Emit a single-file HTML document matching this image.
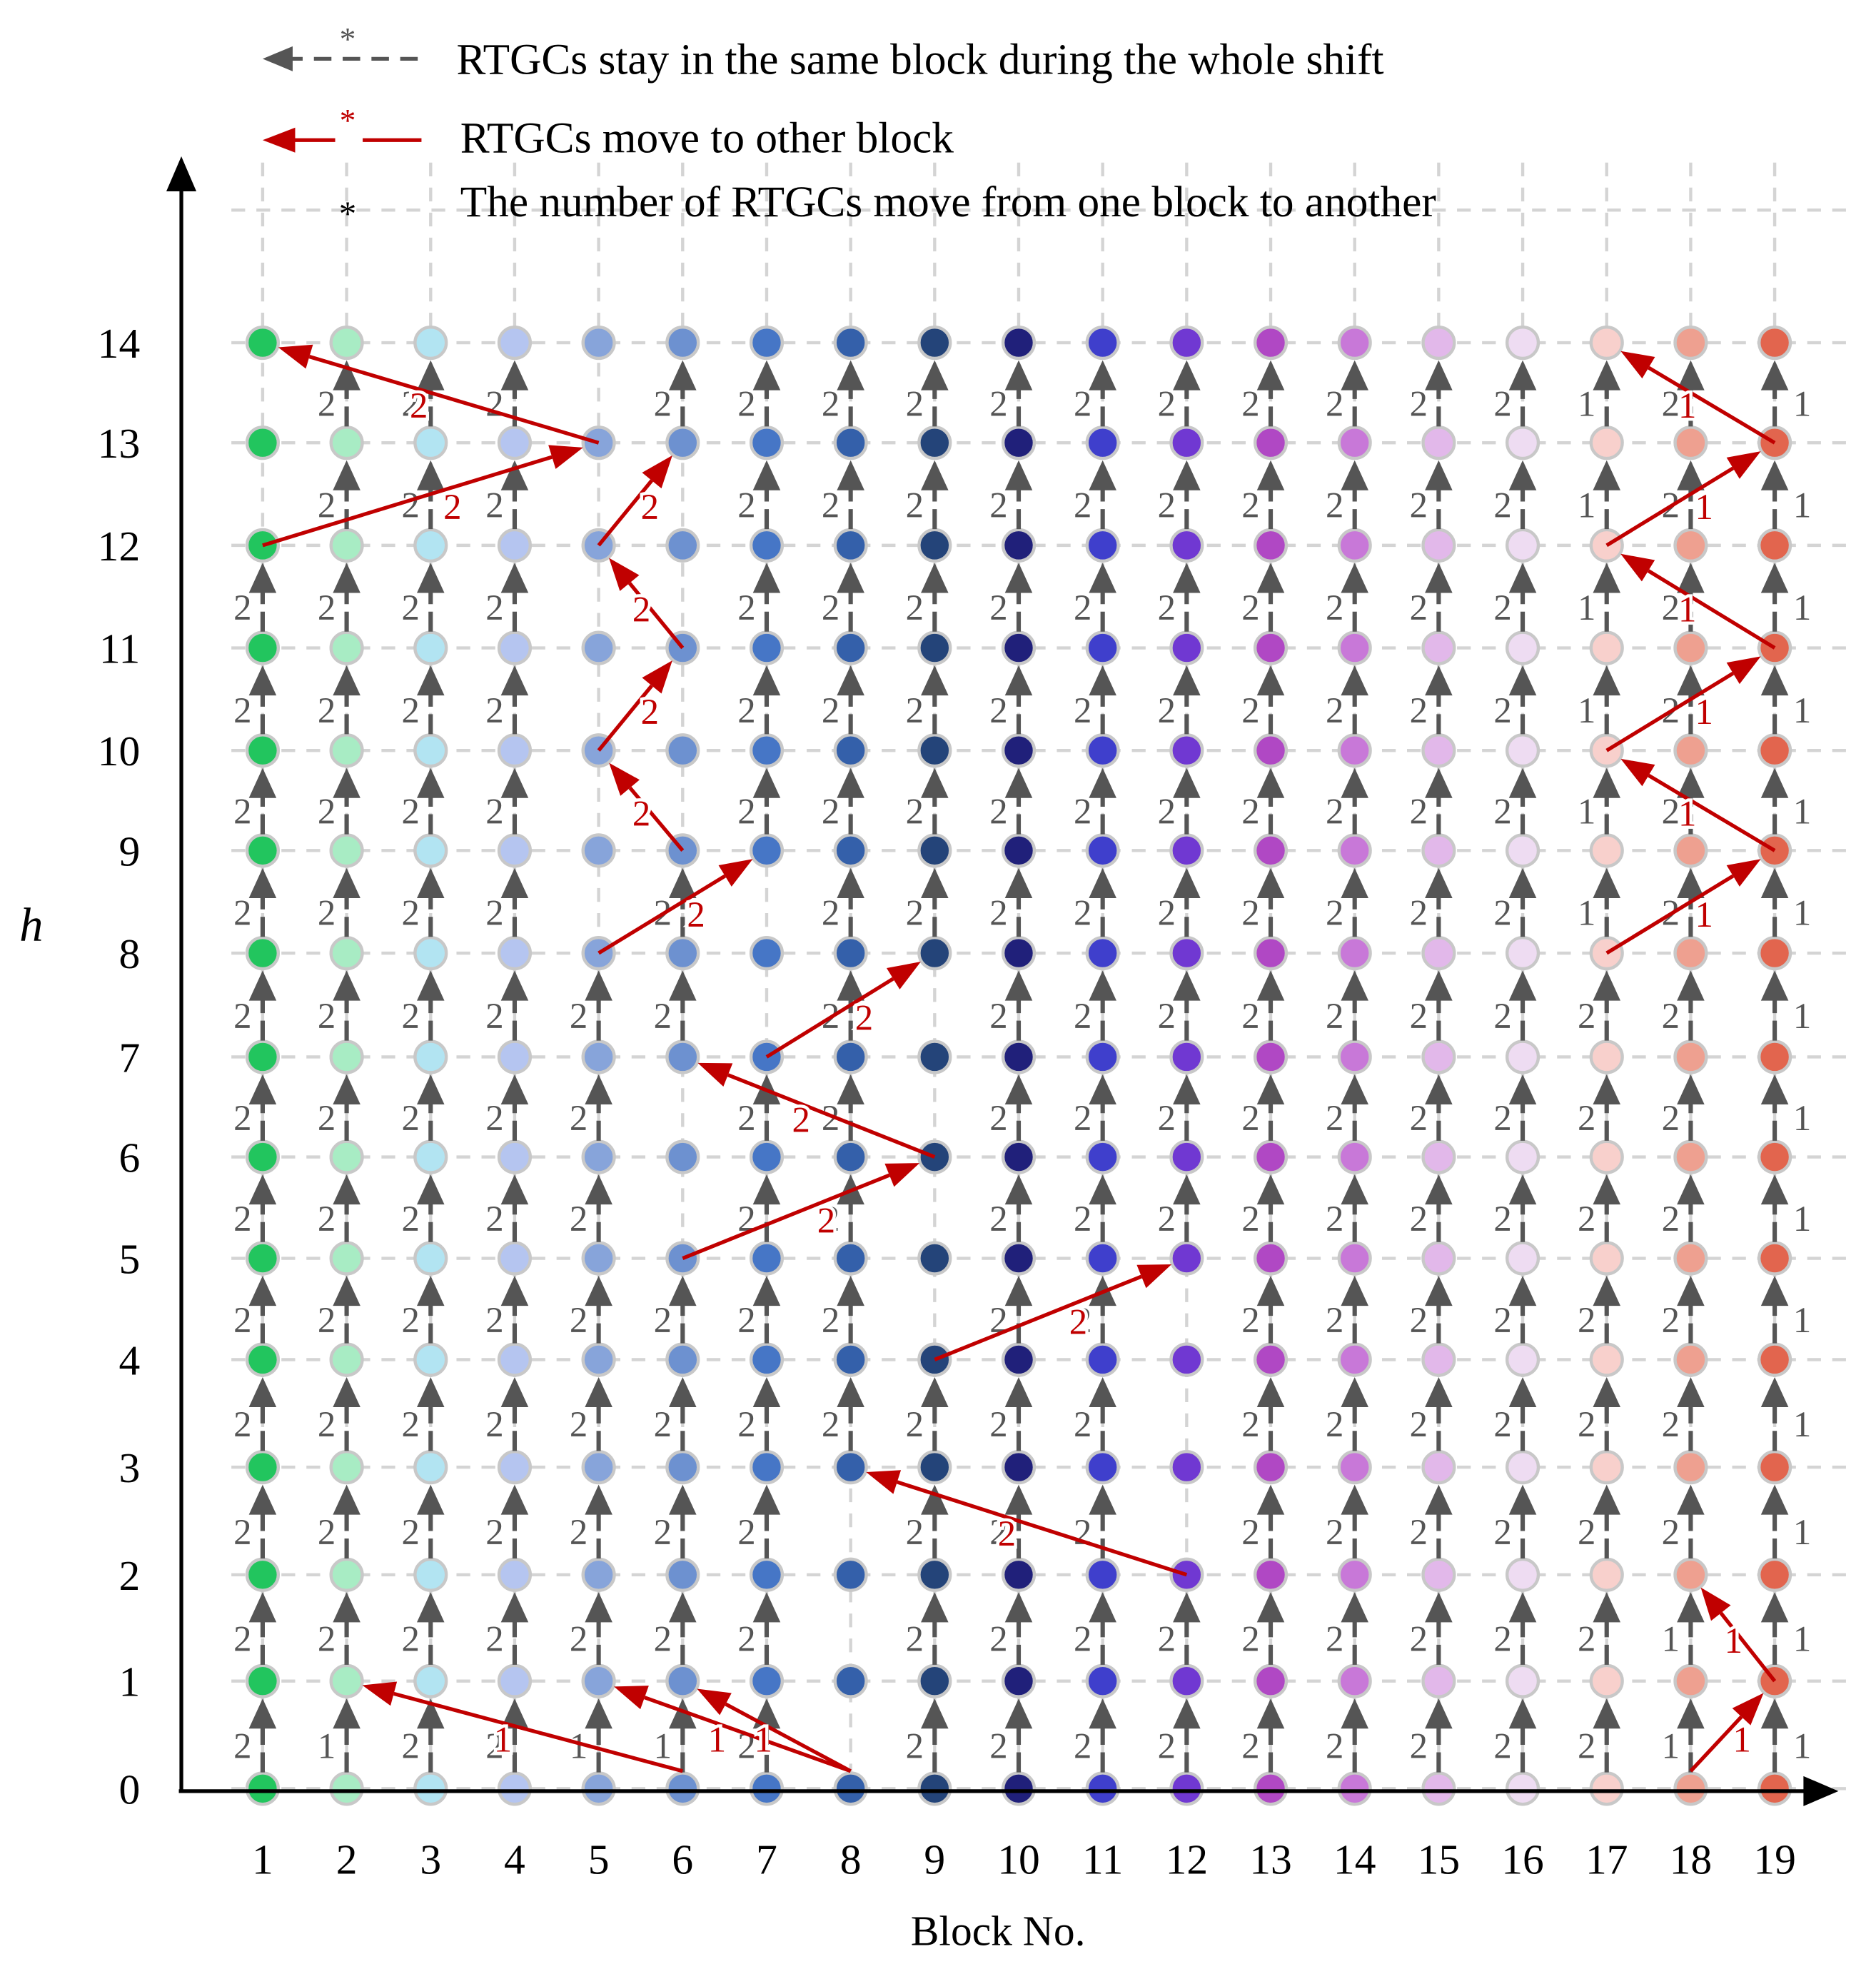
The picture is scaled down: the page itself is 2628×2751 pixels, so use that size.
<!DOCTYPE html>
<html><head><meta charset="utf-8"><style>
html,body{margin:0;padding:0;background:#fff}
svg{display:block}
text{font-family:"Liberation Serif",serif}
</style></head><body>
<svg id="chart" width="2628" height="2751" viewBox="0 0 1500 1570.2" xmlns="http://www.w3.org/2000/svg">
<g id="grid"></g>
<g id="dots"></g>
<g id="garrows"></g>
<g id="rarrows"></g>
<g>
<line x1="145" y1="1432" x2="145" y2="145" stroke="#000" stroke-width="3"/>
<path d="M145,125 L133,153 L157,153 Z" fill="#000"/>
<line x1="143" y1="1432" x2="1448" y2="1432" stroke="#000" stroke-width="3"/>
<path d="M1470,1432 L1442,1420 L1442,1444 Z" fill="#000"/>
</g>
<g id="ticks" font-size="34" fill="#000"></g>
<text x="25" y="752" font-size="38" font-style="italic" text-anchor="middle">h</text>
<text x="798" y="1555" font-size="34" text-anchor="middle">Block No.</text>
<g font-size="35">
<g>
<line x1="228" y1="47" x2="335" y2="47" stroke="#555" stroke-width="3" stroke-dasharray="14 9"/>
<path d="M210,47 L234,37 L234,57 Z" fill="#555"/>
<text x="278" y="40" font-size="26" fill="#555" text-anchor="middle">*</text>
<text x="365" y="59">RTGCs stay in the same block during the whole shift</text>
</g>
<g>
<line x1="228" y1="112" x2="268" y2="112" stroke="#c00000" stroke-width="3"/>
<line x1="290" y1="112" x2="337" y2="112" stroke="#c00000" stroke-width="3"/>
<path d="M210,112 L236,102 L236,122 Z" fill="#c00000"/>
<text x="278" y="105" font-size="26" fill="#c00000" text-anchor="middle">*</text>
<text x="368" y="122">RTGCs move to other block</text>
</g>
<g>
<text x="278" y="180" font-size="28" fill="#000" text-anchor="middle">*</text>
<text x="368" y="173">The number of RTGCs move from one block to another</text>
</g>
</g>
</svg>
<script>
const blocks=[1,2,3,4,5,6,7,8,9,10,11,12,13,14,15,16,17,18,19];
const hours=[0,1,2,3,4,5,6,7,8,9,10,11,12,13,14];
const blockColors=["#22c55e","#a8ecc4","#b2e4f2","#b5c5f0","#87a4da","#6d91d0","#4676c6","#3460aa","#244479","#20207a","#3f3fcc","#7038d2","#b048c4","#c878d8","#e2b8ea","#eedcf2","#f8d0cc","#eea090","#e2654e"];
// missing stay arrows: [block, fromHour]
const missingStay=[[1,12],[1,13],[5,8],[5,9],[5,10],[5,11],[5,12],[5,13],[6,5],[6,6],[6,9],[6,10],[6,11],[6,12],[7,7],[7,8],[8,0],[8,1],[8,2],[9,4],[9,5],[9,6],[9,7],[12,2],[12,3],[12,4]];
// stay counts of 1 (others are 2): [block, fromHour]
const stayOnes=[[2,0],[5,0],[6,0],[18,0],[18,1],[17,8],[17,9],[17,10],[17,11],[17,12],[17,13]];
// moves: from block, from hour, to block, to hour, count
const moveFrom=[[5,13],[1,12],[5,12],[6,11],[5,10],[6,9],[5,8],[7,7],[9,6],[6,5],[9,4],[12,2],[6,0],[8,0],[8,0],[18,0],[19,1],[17,8],[19,9],[17,10],[19,11],[17,12],[19,13]];
const moveTo=[[1,14],[5,13],[6,13],[5,12],[6,11],[5,10],[7,9],[9,8],[6,7],[9,6],[12,5],[8,3],[2,1],[5,1],[6,1],[19,1],[18,2],[19,9],[17,10],[19,11],[17,12],[19,13],[17,14]];
const moveCount=[2,2,2,2,2,2,2,2,2,2,2,2,1,1,1,1,1,1,1,1,1,1,1];

const rowY=[1430,1344,1259,1173,1087,1006,925,845,762,680,600,518,436,354,274];
function xs(b){return 210+(b-1)*(1419-210)/18;}
function ys(h){const i=Math.floor(h);if(i>=14)return rowY[14];return rowY[i]+(rowY[i+1]-rowY[i])*(h-i);}
const NS="http://www.w3.org/2000/svg";
function mk(tag,attrs,parent){const e=document.createElementNS(NS,tag);for(const k in attrs)e.setAttribute(k,attrs[k]);parent.appendChild(e);return e;}
const grid=document.getElementById('grid'),dots=document.getElementById('dots'),ga=document.getElementById('garrows'),ra=document.getElementById('rarrows'),ticks=document.getElementById('ticks');
blocks.forEach(b=>{const l=mk('line',{x1:xs(b),x2:xs(b),y1:130,y2:1430,stroke:'#d4d4d4','stroke-width':2.5,'stroke-dasharray':'11 9'},grid);

});
hours.concat([15]).forEach(h=>{const y=h===15?168:ys(h);const l=mk('line',{x1:185,x2:1480,y1:y,y2:y,stroke:'#d4d4d4','stroke-width':2.5,'stroke-dasharray':'11 9'},grid);

});
blocks.forEach(b=>{const t=mk('text',{x:xs(b),y:1498,'text-anchor':'middle'},ticks);t.textContent=b;

});
hours.forEach(h=>{const t=mk('text',{x:112,y:ys(h)+12,'text-anchor':'end'},ticks);t.textContent=h;

});
const has=(arr,b,h)=>arr.some(p=>p[0]===b&&p[1]===h);
blocks.forEach(b=>{for(let h=0;h<14;h++){if(has(missingStay,b,h))continue;
const x=xs(b),y0=ys(h)-13,y1=ys(h+1)+14;
const g=mk('g',{},ga);


mk('line',{x1:x,x2:x,y1:y0,y2:y1+20,stroke:'#555','stroke-width':3.5,'stroke-dasharray':'16 6'},g);
mk('path',{d:`M${x},${y1} L${x-11},${y1+24} L${x+11},${y1+24} Z`,fill:'#555'},g);
const one=b===19||has(stayOnes,b,h);
const lx=b===19?x+22:x-16;
const t=mk('text',{x:lx,y:(y0+y1)/2+18,'font-size':29,fill:'#555','text-anchor':'middle'},g);t.textContent=one?1:2;}});
blocks.forEach((b,i)=>{hours.forEach(h=>{const c=mk('circle',{cx:xs(b),cy:ys(h),r:12.5,fill:blockColors[i],stroke:'#c8c8c8','stroke-width':2.5},dots);

});});
moveFrom.forEach((f,i)=>{const t=moveTo[i];
const x0=xs(f[0]),y0=ys(f[1])+(f[1]===0?-14:0),x1=xs(t[0]),y1=ys(t[1]);
const dx=x1-x0,dy=y1-y0,L=Math.hypot(dx,dy),ux=dx/L,uy=dy/L;
const ex=x1-ux*13,ey=y1-uy*13,bx=ex-ux*26,by=ey-uy*26,px=-uy,py=ux;
const g=mk('g',{},ra);


mk('line',{x1:x0,y1:y0,x2:bx,y2:by,stroke:'#c00000','stroke-width':3},g);
mk('path',{d:`M${ex},${ey} L${bx+px*10},${by+py*10} L${bx-px*10},${by-py*10} Z`,fill:'#c00000'},g);
const mx=x0+dx*0.55,my=y0+dy*0.55;
const tt=mk('text',{x:mx+4,y:my+24,'font-size':29,fill:'#c00000','text-anchor':'middle',stroke:'#fff','stroke-width':5,'paint-order':'stroke'},g);tt.textContent=moveCount[i];});
</script>
</body></html>
